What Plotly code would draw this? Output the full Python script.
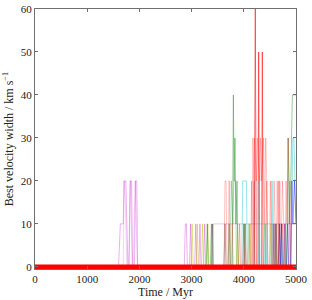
import plotly.graph_objects as go

# ---- data (Time / Myr, best velocity width / km s^-1) ----
t_m1 = [0, 1600, 1635, 1690, 1705, 1740, 1780, 1800, 1820, 1850, 1870, 1905, 1925, 1950, 1965, 5000]
v_m1 = [0, 0, 10, 10, 20, 20, 0, 0, 20, 20, 0, 0, 20, 20, 0, 0]

t_m2 = [0, 1690, 1710, 1730, 1760, 1800, 1830, 1860, 1880, 1920, 1940, 1960, 5000]
v_m2 = [0, 0, 20, 15, 0, 0, 20, 0, 0, 20, 10, 0, 0]

t_m3 = [0, 2860, 2880, 2900, 2920, 2960, 2980, 3000, 3060, 3080, 3100, 3140, 3160, 3180, 3230, 3250, 3270, 5000]
v_m3 = [0, 0, 10, 10, 0, 0, 10, 0, 0, 10, 0, 0, 10, 0, 0, 10, 0, 0]

t_y1 = [0, 2990, 3010, 3030, 3090, 3110, 3130, 3190, 3210, 3230, 3290, 3310, 3330, 3860, 3880, 3900, 4100, 4120, 4140, 4500, 4520, 4540, 5000]
v_y1 = [0, 0, 10, 0, 0, 10, 0, 0, 10, 0, 0, 10, 0, 0, 10, 0, 0, 10, 0, 0, 10, 0, 0]

t_flat = [0, 3390, 3420, 5000]
v_flat = [0, 0, 10, 10]

t_k1 = [0, 3380, 3400, 3420, 3620, 3640, 3660, 3980, 4000, 4020, 4180, 4195, 4210, 4600, 4620, 4640, 5000]
v_k1 = [0, 0, 10, 0, 0, 10, 0, 0, 10, 0, 0, 20, 0, 0, 10, 0, 0]

t_g1 = [0, 3280, 3300, 3320, 3360, 3380, 3400, 3700, 3720, 3740, 3780, 3800, 3815, 3830, 3850, 3870, 3890,
        4000, 4020, 4040, 4590, 4610, 4630, 4820, 4850, 4870, 4900, 4930, 5000]
v_g1 = [0, 0, 10, 0, 0, 10, 0, 0, 10, 0, 0, 40, 20, 30, 10, 20, 0,
        0, 10, 0, 0, 10, 0, 0, 30, 10, 20, 40, 40]

t_g2 = [0, 3740, 3760, 3790, 3810, 3840, 3860, 4080, 4100, 4120, 4380, 4400, 4420, 4660, 4680, 4700, 4780, 4800, 4820, 5000]
v_g2 = [0, 0, 20, 10, 20, 20, 0, 0, 10, 0, 0, 10, 0, 0, 10, 0, 0, 10, 0, 0]

t_r1 = [0, 3620, 3640, 3660, 3680, 3700, 3720, 3740, 3760, 3780, 3800, 4150, 4175, 4190, 4205, 4240, 4260,
        4300, 4320, 4335, 4380, 4400, 4420, 4440, 4460, 4490, 4510, 4530, 4560, 4580, 4600, 4620, 4640, 4670,
        4690, 4710, 4740, 4760, 4790, 4810, 4830, 4850, 4870, 4890, 4910, 4950, 5000]
v_r1 = [0, 0, 20, 20, 0, 0, 20, 0, 0, 10, 0, 0, 30, 20, 30, 20, 30,
        20, 30, 20, 30, 10, 30, 20, 0, 0, 20, 0, 0, 20, 10, 0, 20, 0,
        20, 0, 20, 10, 0, 20, 10, 30, 20, 0, 10, 10, 10]

t_r3 = [0, 3900, 3920, 3940, 4010, 4030, 4050, 4130, 4150, 4170, 4420, 4440, 4460, 4540, 4560, 4580, 4650, 4670, 4690,
        4720, 4740, 4760, 4860, 4880, 4900, 5000]
v_r3 = [0, 0, 10, 0, 0, 10, 0, 0, 20, 0, 0, 20, 0, 0, 10, 0, 0, 20, 0,
        0, 10, 0, 0, 20, 0, 0]

t_r2 = [0, 4200, 4220, 4240, 4270, 4285, 4300, 4340, 4355, 4370, 5000]
v_r2 = [0, 0, 60, 0, 0, 50, 0, 0, 50, 0, 0]

t_c1 = [0, 3960, 3980, 4050, 4070, 4280, 4295, 4310, 4400, 4420, 4440, 4520, 4540, 4560, 4700, 4720, 4740,
        4900, 4940, 4960, 5000]
v_c1 = [0, 0, 20, 20, 0, 0, 20, 0, 0, 10, 0, 0, 20, 0, 0, 10, 0,
        0, 30, 30, 10]

t_b1 = [0, 4700, 4720, 4740, 4820, 4840, 4860, 4900, 4920, 4940, 4970, 5000]
v_b1 = [0, 0, 10, 0, 0, 10, 0, 0, 20, 10, 20, 10]

t_m4 = [0, 4560, 4580, 4600, 4660, 4680, 4700, 4760, 4780, 4800, 5000]
v_m4 = [0, 0, 10, 0, 0, 10, 0, 0, 10, 0, 0]

t_base = [0, 5000]
v_base = [0, 0]

x_ticks = [0, 1000, 2000, 3000, 4000, 5000]
y_ticks = [0, 10, 20, 30, 40, 50, 60]

series = [
    (t_m1, v_m1, "rgba(200,40,200,0.45)"),
    (t_m2, v_m2, "rgba(200,40,200,0.25)"),
    (t_m3, v_m3, "rgba(200,40,200,0.45)"),
    (t_y1, v_y1, "rgba(191,191,0,0.55)"),
    (t_flat, v_flat, "rgba(191,0,191,0.3)"),
    (t_k1, v_k1, "rgba(0,0,0,0.4)"),
    (t_g1, v_g1, "rgba(0,128,0,0.5)"),
    (t_g2, v_g2, "rgba(0,128,0,0.35)"),
    (t_r1, v_r1, "rgba(255,0,0,0.3)"),
    (t_r3, v_r3, "rgba(255,0,0,0.35)"),
    (t_r2, v_r2, "rgba(255,0,0,0.7)"),
    (t_c1, v_c1, "rgba(0,191,191,0.5)"),
    (t_b1, v_b1, "rgba(0,0,255,0.5)"),
    (t_m4, v_m4, "rgba(128,0,128,0.5)"),
]

fig = go.Figure()
for tx, vy, col in series:
    fig.add_trace(go.Scatter(x=tx, y=vy, mode="lines", line=dict(color=col, width=0.8),
                             showlegend=False, hoverinfo="skip"))
fig.add_trace(go.Scatter(x=t_base, y=v_base, mode="lines", line=dict(color="#ff0000", width=4.5),
                         showlegend=False, hoverinfo="skip"))

font = "Liberation Serif"
axis_common = dict(showline=True, linecolor="#707070", linewidth=1.2, mirror="ticks",
                   ticks="inside", ticklen=3, tickcolor="#707070", showgrid=False, zeroline=False,
                   tickfont=dict(family=font, size=11, color="#222"))
fig.update_xaxes(range=[0, 5000], tickvals=x_ticks, ticktext=[str(v) for v in x_ticks],
                 title=dict(text="Time / Myr", font=dict(family=font, size=12, color="#222"), standoff=2),
                 **axis_common)
fig.update_yaxes(range=[-0.5, 60], tickvals=y_ticks, ticktext=[str(v) for v in y_ticks],
                 title=dict(text="Best velocity width / km s<sup>−1</sup>", font=dict(family=font, size=12, color="#222"),
                            standoff=4),
                 **axis_common)
fig.update_layout(width=312, height=300, margin=dict(l=35, r=16, t=9, b=31, autoexpand=False),
                  plot_bgcolor="white", paper_bgcolor="white")
fig.write_html("out.html", config={"displayModeBar": False},
               post_script="document.body.style.margin='0';")
